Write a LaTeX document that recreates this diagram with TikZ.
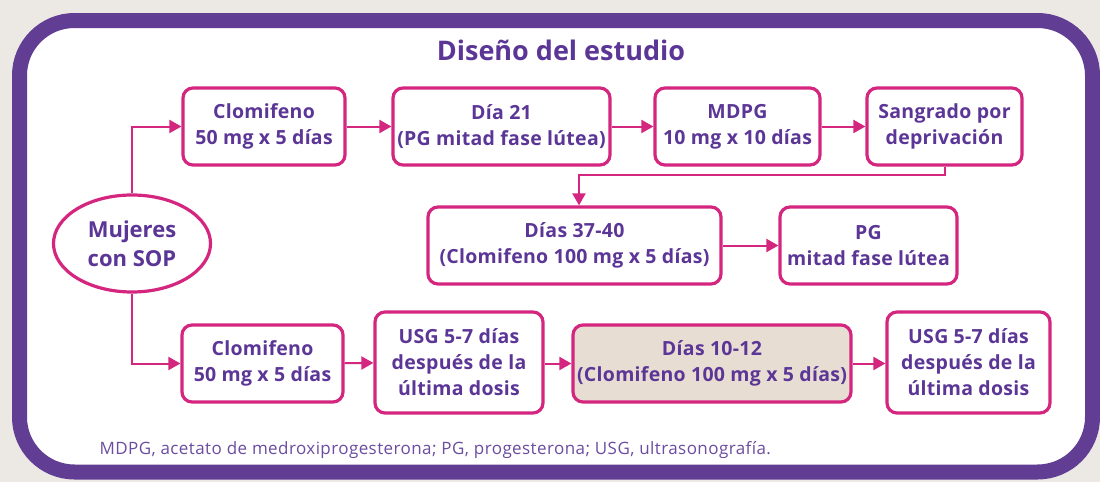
\documentclass[tikz,border=0pt]{standalone}
\usepackage{fontspec}
\setmainfont{Open Sans}
\usetikzlibrary{arrows.meta,shapes.geometric,calc}
\definecolor{bgc}{HTML}{ECE9E5}
\definecolor{framec}{HTML}{613E93}
\definecolor{txtc}{HTML}{5B3696}
\definecolor{pinkc}{HTML}{D5267F}
\definecolor{beigec}{HTML}{E8DDD2}
\definecolor{notec}{HTML}{6B4CA0}
\begin{document}
\begin{tikzpicture}[x=1pt,y=-1pt,
  box/.style={draw=pinkc,line width=3.2pt,rounded corners=10pt,fill=white,
    text=txtc,font=\fontsize{19.5}{26}\selectfont\bfseries\addfontfeature{LetterSpace=1.5},align=center,
    inner sep=0pt,minimum height=77pt},
  conn/.style={draw=pinkc,line width=2pt,-{Triangle[length=12pt,width=13pt]}}]
\useasboundingbox (0,0) rectangle (1100,482);
\fill[bgc] (0,0) rectangle (1100,482);
\draw[framec,line width=15pt,fill=white,rounded corners=55pt] (19.5,20.5) rectangle (1092.5,472);
\node[text=txtc,font=\fontsize{27}{32}\selectfont\bfseries] (title) at (561,50) {Diseño del estudio};
% row 1
\node[box,minimum width=162pt] (c1) at (264,126.5) {Clomifeno\\50 mg x 5 días};
\node[box,minimum width=217pt] (d21) at (501.5,126.5) {Día 21\\(PG mitad fase lútea)};
\node[box,minimum width=165pt] (mdpg) at (737.5,126.5) {MDPG\\10 mg x 10 días};
\node[box,minimum width=155pt] (sang) at (944.5,126.5) {Sangrado por\\deprivación};
% row 2
\node[box,minimum width=293pt] (d37) at (574.5,245.5) {Días 37-40\\(Clomifeno 100 mg x 5 días)};
\node[box,minimum width=177pt] (pg) at (868.5,245.5) {PG\\mitad fase lútea};
% ellipse
\node[draw=pinkc,line width=3.2pt,ellipse,fill=white,text=txtc,
  font=\fontsize{22}{29}\selectfont\bfseries,align=center,inner sep=0pt,
  minimum width=157pt,minimum height=97pt] (ell) at (132,243.5) {Mujeres\\con SOP};
% row 3
\node[box,minimum width=161pt] (c2) at (262.5,363.5) {Clomifeno\\50 mg x 5 días};
\node[box,minimum width=168pt,minimum height=101pt] (u1) at (459,362.5) {USG 5-7 días\\después de la\\última dosis};
\node[box,minimum width=278pt,fill=beigec] (d10) at (712,363.5) {Días 10-12\\(Clomifeno 100 mg x 5 días)};
\node[box,minimum width=163pt,minimum height=101pt] (u2) at (968.5,362.5) {USG 5-7 días\\después de la\\última dosis};
% footnote
\node[anchor=west,text=notec,font=\fontsize{17}{20}\selectfont\addfontfeature{LetterSpace=2.5}] (note) at (96,450)
  {MDPG, acetato de medroxiprogesterona; PG, progesterona; USG, ultrasonografía.};
% connectors
\draw[conn] (ell.north) |- (c1.west);
\draw[conn] (ell.south) |- (c2.west);
\draw[conn] (c1) -- (d21);
\draw[conn] (d21) -- (mdpg);
\draw[conn] (mdpg) -- (sang);
\coordinate (k) at (579,175);
\draw[conn] (sang.south) |- (k) -- (k |- d37.north);
\draw[conn] (d37) -- (pg);
\draw[conn] (c2) -- (u1);
\draw[conn] (u1.east |- c2.east) -- (d10.west);
\draw[conn] (d10) -- (u2.west |- d10.east);
\end{tikzpicture}
\end{document}
